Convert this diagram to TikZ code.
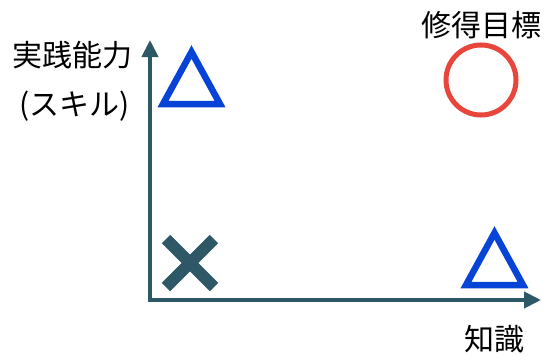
\documentclass[tikz,border=0pt]{standalone}
\usepackage{fontspec}
\setmainfont{Noto Sans CJK JP}
\usetikzlibrary{arrows.meta}
\definecolor{axisc}{RGB}{46,88,102}
\definecolor{bluec}{RGB}{5,68,214}
\definecolor{redc}{RGB}{232,70,58}
\tikzset{
  lbl/.style={font=\fontsize{30}{34}\selectfont, inner sep=0pt, text=black},
  axisline/.style={draw=axisc, line width=4pt, -{Triangle[length=17pt,width=16pt]}},
  tri/.style={draw=bluec, line width=6.5pt, line join=miter},
  xmark/.style={draw=axisc, line width=12pt, line cap=butt},
}
\begin{document}
\begin{tikzpicture}[x=1pt,y=-1pt]
\useasboundingbox[fill=white] (0,0) rectangle (550,356);
\coordinate (o) at (150,300);
\coordinate (ytip) at (150,40);
\coordinate (xtip) at (541,300);
\draw[axisline] ([yshift=-2pt]o) -- (ytip);
\draw[axisline] ([xshift=-2pt]o) -- (xtip);
% triangles
\draw[tri] (191.5,52) -- (163,104) -- (220,104) -- cycle;
\draw[tri] (494.5,233) -- (466,285) -- (523,285) -- cycle;
% circle
\draw[redc, line width=5pt] (481,80) circle (35);
% cross
\draw[xmark] (166,239) -- (214,287);
\draw[xmark] (214,239) -- (166,287);
% labels
\node[lbl] (skill1) at (72.5,55) {実践能力};
\node[lbl] (skill2) at (74.5,106) {(スキル)};
\node[lbl] (goal) at (481,25) {修得目標};
\node[lbl] (know) at (494,339) {知識};
\end{tikzpicture}
\end{document}
